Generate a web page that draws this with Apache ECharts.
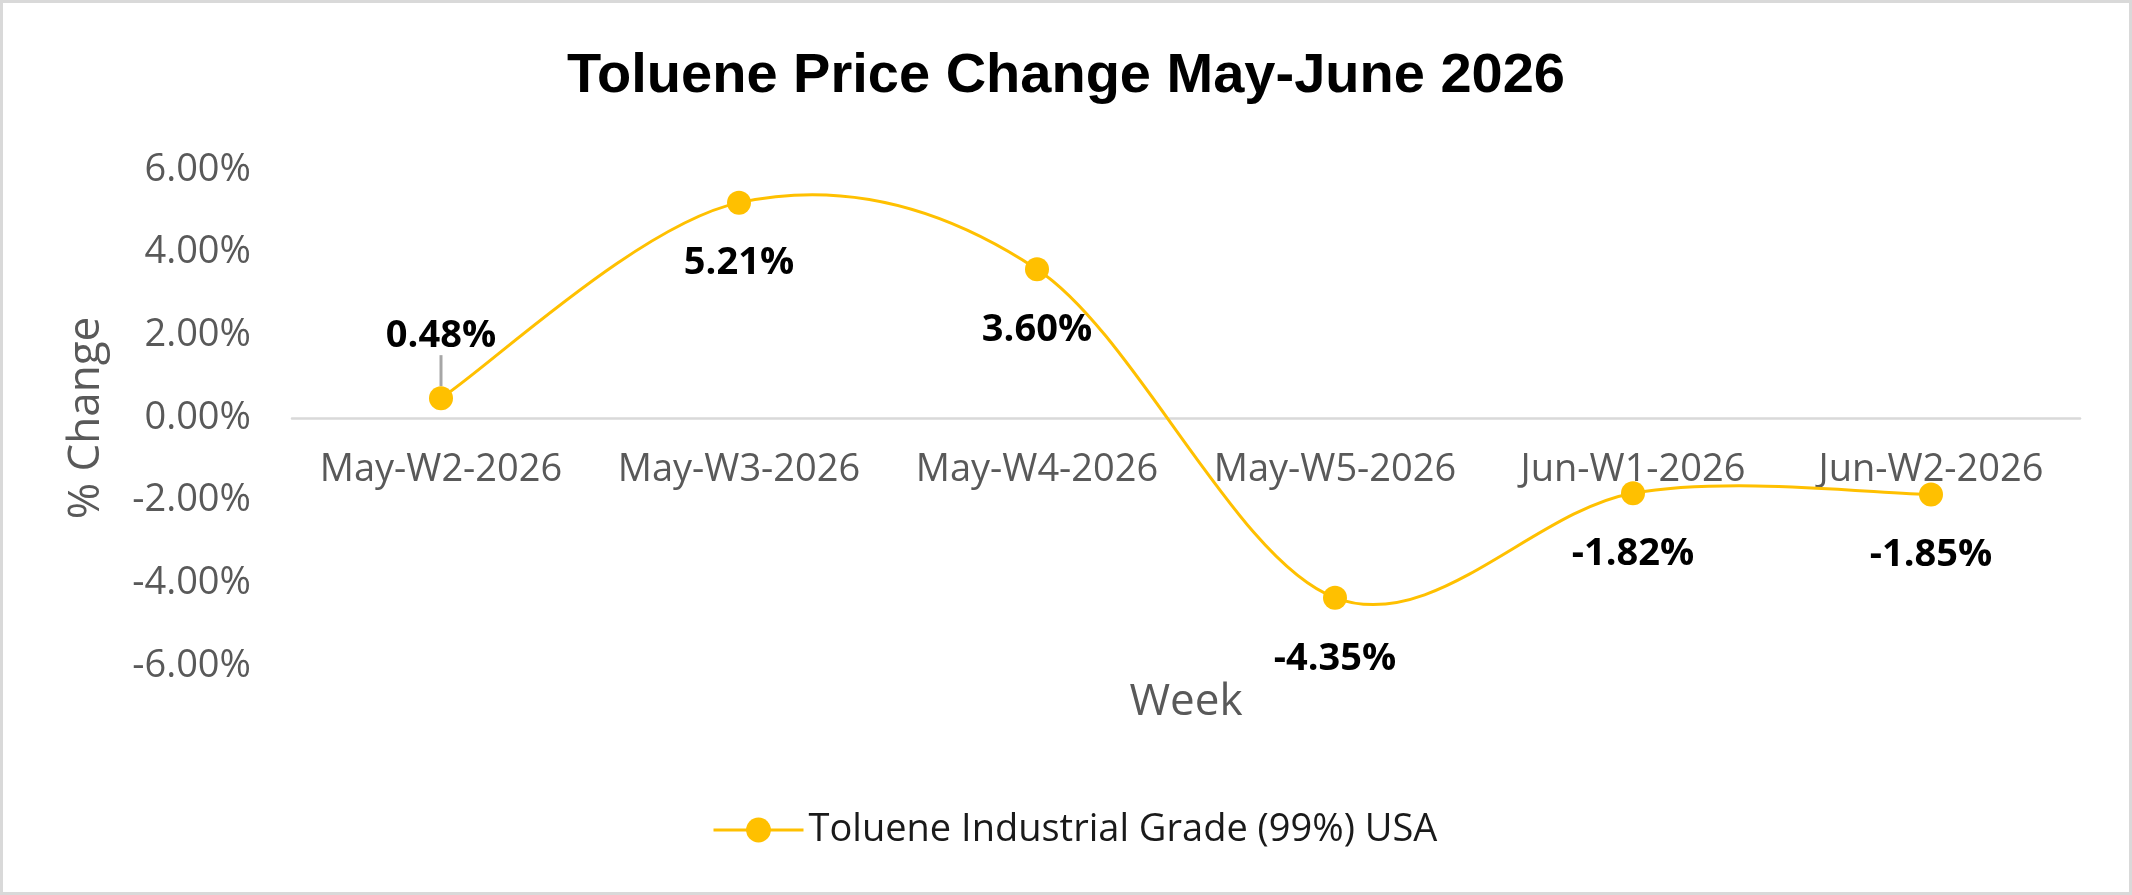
<!DOCTYPE html>
<html>
<head>
<meta charset="utf-8">
<script src="https://cdn.jsdelivr.net/npm/echarts@6/dist/echarts.min.js"></script>
<style>
  html, body { margin: 0; padding: 0; background: #ffffff; }
  #wrap { position: relative; width: 2132px; height: 895px; }
  #chart { position: absolute; left: 0; top: 0; width: 2132px; height: 895px; }
  #frame { position: absolute; left: 0; top: 0; width: 2132px; height: 895px; box-sizing: border-box; border: 3px solid #d9d9d9; pointer-events: none; }
</style>
</head>
<body>
<div id="wrap"><div id="chart"></div><div id="frame"></div></div>
<script>
const titleText = 'Toluene Price Change May-June 2026';
const categories = ['May-W2-2026', 'May-W3-2026', 'May-W4-2026', 'May-W5-2026', 'Jun-W1-2026', 'Jun-W2-2026'];
const seriesName = 'Toluene Industrial Grade (99%) USA';
const values = [0.48, 5.21, 3.60, -4.35, -1.82, -1.85];
const yTicks = [-6, -4, -2, 0, 2, 4, 6];
const xAxisName = 'Week';
const yAxisName = '% Change';

const FONT = "'Open Sans', 'Liberation Sans', sans-serif";
const GOLD = '#FFC000';

const GRID_TOP = 170, GRID_BOTTOM = 229, H = 895;
const yMin = yTicks[0], yMax = yTicks[yTicks.length - 1];
const plotH = H - GRID_TOP - GRID_BOTTOM;
// shift category axis up from the grid bottom to the zero line
const zeroOffset = -plotH * (0 - yMin) / (yMax - yMin);

const chart = echarts.init(document.getElementById('chart'), null, { renderer: 'canvas' });

const seriesData = values.map((v, i) => {
  const item = { value: v };
  if (i === 0) {
    item.label = { position: 'top', distance: 5 };
    item.labelLine = { show: true, lineStyle: { color: '#a6a6a6', width: 3 } };
  }
  return item;
});

// Excel-style (Catmull-Rom) smoothed curve through the points, using the chart's own coordinate system
function renderCurve(params, api) {
  if (params.dataIndex !== 0) return null;
  const pts = values.map((v, i) => api.coord([i, v]));
  const n = pts.length;
  const P = i => pts[Math.max(0, Math.min(n - 1, i))];
  let d = 'M' + pts[0][0] + ',' + pts[0][1];
  for (let i = 0; i < n - 1; i++) {
    const p0 = P(i - 1), p1 = P(i), p2 = P(i + 1), p3 = P(i + 2);
    const c1x = p1[0] + (p2[0] - p0[0]) / 6, c1y = p1[1] + (p2[1] - p0[1]) / 6;
    const c2x = p2[0] - (p3[0] - p1[0]) / 6, c2y = p2[1] - (p3[1] - p1[1]) / 6;
    d += ' C' + c1x + ',' + c1y + ' ' + c2x + ',' + c2y + ' ' + p2[0] + ',' + p2[1];
  }
  return {
    type: 'path',
    shape: { pathData: d },
    style: { fill: null, stroke: GOLD, lineWidth: 3 },
    silent: true
  };
}

chart.setOption({
  backgroundColor: '#ffffff',
  animation: false,
  title: {
    text: titleText,
    left: 'center',
    top: 44,
    textStyle: { fontFamily: "'Liberation Sans', Arial, sans-serif", fontSize: 56, fontWeight: 'bold', color: '#000000' }
  },
  grid: { left: 292, right: 52, top: GRID_TOP, bottom: GRID_BOTTOM, containLabel: false, outerBoundsMode: 'none' },
  legend: {
    data: [seriesName],
    left: 707,
    top: 806,
    itemWidth: 90,
    itemHeight: 31,
    itemGap: 10,
    lineStyle: { width: 3, color: GOLD, opacity: 1 },
    textStyle: { fontFamily: FONT, fontSize: 38, color: '#1a1a1a' }
  },
  xAxis: {
    type: 'category',
    data: categories,
    boundaryGap: true,
    position: 'bottom',
    offset: zeroOffset,
    name: xAxisName,
    nameLocation: 'middle',
    nameGap: 262,
    nameMoveOverlap: false,
    nameTextStyle: { fontFamily: FONT, fontSize: 44, color: '#595959' },
    axisLine: { onZero: false, lineStyle: { color: '#d9d9d9', width: 2.5 } },
    axisTick: { show: false },
    axisLabel: { fontFamily: FONT, fontSize: 38, color: '#595959', margin: 33, interval: 0 },
    splitLine: { show: false }
  },
  yAxis: {
    type: 'value',
    min: yMin,
    max: yMax,
    interval: 2,
    name: yAxisName,
    nameLocation: 'middle',
    nameGap: 184,
    nameMoveOverlap: false,
    nameTextStyle: { fontFamily: FONT, fontSize: 44, color: '#595959' },
    axisLine: { show: false },
    axisTick: { show: false },
    splitLine: { show: false },
    axisLabel: {
      fontFamily: FONT, fontSize: 38, color: '#595959', margin: 41,
      formatter: v => v.toFixed(2) + '%'
    }
  },
  series: [{
    name: 'curve',
    type: 'custom',
    data: values,
    renderItem: renderCurve,
    clip: false,
    z: 1,
    silent: true
  }, {
    name: seriesName,
    type: 'line',
    data: seriesData,
    z: 3,
    symbol: 'circle',
    symbolSize: 24,
    lineStyle: { color: GOLD, width: 3, opacity: 0 },
    itemStyle: { color: GOLD },
    label: {
      show: true,
      position: 'bottom',
      distance: 30,
      fontFamily: FONT,
      fontSize: 38,
      fontWeight: 'bold',
      color: '#000000',
      formatter: p => p.value.toFixed(2) + '%'
    },
    labelLayout: function (params) {
      if (params.seriesIndex === 1 && params.dataIndex === 0) {
        return { dy: -26 };
      }
      return {};
    }
  }]
});
</script>
</body>
</html>
